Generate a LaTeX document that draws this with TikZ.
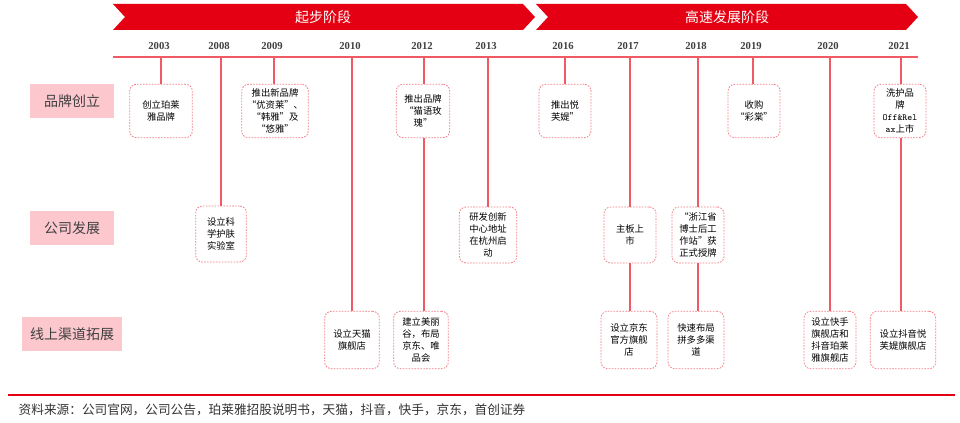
\documentclass[tikz,border=0pt]{standalone}
\usepackage{fontspec}
\setmainfont{Liberation Serif}
\newfontfamily\cjk{Noto Sans CJK SC}
\begin{document}
\begin{tikzpicture}[x=0.75pt,y=-0.75pt,
  ev/.style={draw=tlred!80,dashed,dash pattern=on 1.2pt off 1pt,rounded corners=5pt,line width=0.6pt,align=center,font=\cjk\fontsize{7}{9}\selectfont,inner sep=1pt},
  rowlab/.style={fill=rowpink,font=\cjk\fontsize{10.5}{12}\selectfont,text=black!75,minimum height=25pt,inner sep=0pt},
  yr/.style={font=\fontsize{8}{9}\selectfont\bfseries,text=black!75},
  tl/.style={draw=tlred,line width=0.8pt}]
\definecolor{bred}{RGB}{228,0,18}
\definecolor{tlred}{RGB}{240,90,100}
\definecolor{rowpink}{RGB}{252,200,206}
\useasboundingbox (0,0) rectangle (960,423);
% banners
\fill[bred] (113,4) -- (523,4) -- (535,17) -- (523,30) -- (113,30) -- (125,17) -- cycle;
\fill[bred] (536,4) -- (906,4) -- (918,17) -- (906,30) -- (536,30) -- (548,17) -- cycle;
\node[font=\cjk\fontsize{10.5}{12}\selectfont,text=white] (b1) at (323,17) {起步阶段};
\node[font=\cjk\fontsize{10.5}{12}\selectfont,text=white] (b2) at (727,17) {高速发展阶段};
% timeline
\coordinate (t0) at (113,57); \coordinate (t1) at (917,57);
\draw[tl] (t0) -- (t1); \fill[tlred] (t1) circle (1.3);
% row labels
\node[rowlab,minimum width=63pt] (r1) at (72,101) {品牌创立};
\node[rowlab,minimum width=63pt] (r2) at (72,228) {公司发展};
\node[rowlab,minimum width=75pt] (r3) at (72,334) {线上渠道拓展};
% years
\foreach \x/\y/\n in {161/2003/a,221/2008/b,274/2009/c,352/2010/d,424/2012/e,488/2013/f,565/2016/g,630/2017/h,698/2018/i,753/2019/j,830/2020/k,901/2021/l}{
  \node[yr] (y\n) at (\x-2,46) {\y};
  \coordinate (p\n) at (\x,57);}
% row 1
\node[ev,minimum width=47pt,minimum height=40pt] (e1) at (161,111) {创立珀莱\\雅品牌};
\node[ev,minimum width=50pt,minimum height=40pt] (e2) at (275,111) {推出新品牌\\“优资莱”、\\“韩雅”及\\“悠雅”};
\node[ev,minimum width=40pt,minimum height=40pt] (e3) at (423,111) {推出品牌\\“猫语玫\\瑰”};
\node[ev,minimum width=39pt,minimum height=40pt] (e4) at (565,111) {推出悦\\芙媞”};
\node[ev,minimum width=39pt,minimum height=40pt] (e5) at (754,111) {收购\\“彩棠”};
\node[ev,minimum width=39pt,minimum height=40pt] (e6) at (900,111) {洗护品\\牌\\{\ttfamily Off\&Rel}\\{\ttfamily ax}上市};
% row 2
\node[ev,minimum width=38pt,minimum height=42pt] (f1) at (221,234) {设立科\\学护肤\\实验室};
\node[ev,minimum width=43pt,minimum height=42pt] (f2) at (488,235) {研发创新\\中心地址\\在杭州启\\动};
\node[ev,minimum width=39pt,minimum height=42pt] (f3) at (630,235) {主板上\\市};
\node[ev,minimum width=39pt,minimum height=42pt] (f4) at (698,235) {“浙江省\\博士后工\\作站”获\\正式授牌};
% row 3
\node[ev,minimum width=41pt,minimum height=43pt] (g1) at (352,340) {设立天猫\\旗舰店};
\node[ev,minimum width=41pt,minimum height=43pt] (g2) at (421,340) {建立美丽\\谷，布局\\京东、唯\\品会};
\node[ev,minimum width=42pt,minimum height=43pt] (g3) at (629,340) {设立京东\\官方旗舰\\店};
\node[ev,minimum width=42pt,minimum height=43pt] (g4) at (696,340) {快速布局\\拼多多渠\\道};
\node[ev,minimum width=39pt,minimum height=43pt] (g5) at (830,340) {设立快手\\旗舰店和\\抖音珀莱\\雅旗舰店};
\node[ev,minimum width=49pt,minimum height=43pt] (g6) at (903,340) {设立抖音悦\\芙媞旗舰店};
% connectors (vertical)
\draw[tl] (pa) -- (pa |- e1.north);
\draw[tl] (pb) -- (pb |- f1.north);
\draw[tl] (pc) -- (pc |- e2.north);
\draw[tl] (pd) -- (pd |- g1.north);
\draw[tl] (pe) -- (pe |- e3.north); \draw[tl] (pe |- e3.south) -- (pe |- g2.north);
\draw[tl] (pf) -- (pf |- f2.north);
\draw[tl] (pg) -- (pg |- e4.north);
\draw[tl] (ph) -- (ph |- f3.north); \draw[tl] (ph |- f3.south) -- (ph |- g3.north);
\draw[tl] (pi) -- (pi |- f4.north); \draw[tl] (pi |- f4.south) -- (pi |- g4.north);
\draw[tl] (pj) -- (pj |- e5.north);
\draw[tl] (pk) -- (pk |- g5.north);
\draw[tl] (pl) -- (pl |- e6.north); \draw[tl] (pl |- e6.south) -- (pl |- g6.north);
% footer
\coordinate (s0) at (8,395); \coordinate (s1) at (955,395);
\draw[bred,line width=1.6pt] (s0) -- (s1);
\node[anchor=west,font=\cjk\fontsize{9.5}{11}\selectfont\itshape,text=black!80] (src) at (14,410) {资料来源：公司官网，公司公告，珀莱雅招股说明书，天猫，抖音，快手，京东，首创证券};
\end{tikzpicture}
\end{document}
